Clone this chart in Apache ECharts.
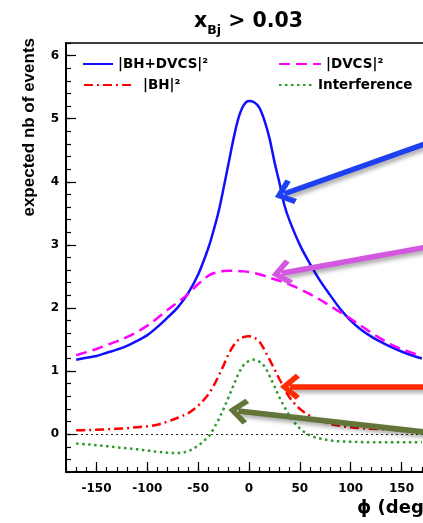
<!DOCTYPE html>
<html>
<head>
<meta charset="utf-8">
<script src="https://cdn.jsdelivr.net/npm/echarts@6/dist/echarts.min.js"></script>
<style>
  html, body { margin: 0; padding: 0; background: #fff; }
  #chart { width: 423px; height: 523px; }
</style>
</head>
<body>
<div id="chart"></div>
<script>
// azimuthal angle phi (degrees)
const phi = [-170,-160,-150,-140,-130,-120,-110,-100,-90,-80,-70,-60,-50,-40,
             -35,-30,-25,-20,-15,-10,-5,0,5,10,15,20,25,30,35,
             40,50,60,70,80,90,100,110,120,130,140,150,160,170];

// expected number of events per contribution
const bhDvcs = [1.18,1.21,1.24,1.29,1.34,1.40,1.48,1.57,1.70,1.85,2.01,2.23,2.53,2.95,
                3.22,3.52,3.90,4.30,4.70,5.03,5.22,5.28,5.26,5.18,4.98,4.70,4.32,3.98,3.62,
                3.38,3.00,2.70,2.43,2.20,1.98,1.80,1.66,1.55,1.46,1.38,1.31,1.25,1.20];
const dvcs = [1.25,1.30,1.35,1.41,1.47,1.54,1.62,1.72,1.84,1.97,2.09,2.22,2.38,2.51,
              2.55,2.57,2.585,2.59,2.59,2.585,2.58,2.57,2.555,2.535,2.51,2.48,2.455,2.43,2.40,
              2.37,2.30,2.22,2.13,2.03,1.93,1.83,1.72,1.61,1.51,1.42,1.35,1.29,1.23];
const bh = [0.06,0.065,0.07,0.075,0.085,0.095,0.11,0.125,0.15,0.20,0.26,0.33,0.45,0.63,
            0.76,0.92,1.09,1.27,1.41,1.50,1.54,1.55,1.53,1.47,1.34,1.19,1.03,0.87,0.72,
            0.58,0.40,0.29,0.21,0.16,0.13,0.11,0.095,0.085,0.078,0.07,0.06,0.05,0.04];
const interference = [-0.15,-0.16,-0.175,-0.19,-0.21,-0.225,-0.24,-0.26,-0.28,-0.295,-0.30,-0.27,-0.18,-0.04,
                      0.08,0.23,0.40,0.59,0.78,0.97,1.10,1.16,1.18,1.15,1.08,0.93,0.76,0.58,0.43,
                      0.29,0.09,-0.02,-0.07,-0.10,-0.115,-0.12,-0.125,-0.13,-0.13,-0.13,-0.13,-0.13,-0.13];

const seriesNames = ['|BH+DVCS|²', '|DVCS|²', '|BH|²', 'Interference'];
const xMajorTicks = [-150, -100, -50, 0, 50, 100, 150];
const yMajorTicks = [0, 1, 2, 3, 4, 5, 6];

// pointer arrows: [tail phi, tail value, head phi, head value]
const arrowBlue = [180, 4.64, 34.8, 3.81];
const arrowViolet = [180, 2.98, 32.0, 2.55];
const arrowRed = [180, 0.75, 40.3, 0.75];
const arrowOlive = [180, 0.02, -10.6, 0.367];

const pairs = vals => phi.map((p, i) => [p, vals[i]]);

const FONT = 'DejaVu Sans';
const chevron = 'path://M12,0 L24,13 L20.5,16.5 L12,7 L3.5,16.5 L0,13 Z';

function arrowMark(a, color) {
  return {
    silent: true,
    animation: false,
    symbol: ['none', chevron],
    symbolSize: [26, 20],
    label: { show: false },
    emphasis: { disabled: true },
    lineStyle: {
      color: color, width: 5.5, type: 'solid', opacity: 1,
      shadowColor: 'rgba(0,0,0,0.35)', shadowBlur: 4, shadowOffsetX: 2, shadowOffsetY: 3
    },
    itemStyle: { color: color },
    data: [[{ coord: [a[0], a[1]] }, { coord: [a[2], a[3]] }]]
  };
}

function lineSeries(name, vals, color, type, mark) {
  return {
    name: name,
    type: 'line',
    data: pairs(vals),
    xAxisIndex: 0,
    yAxisIndex: 0,
    showSymbol: false,
    symbol: 'none',
    smooth: 0.35,
    clip: false,
    lineStyle: { color: color, width: 2.5, type: type, cap: 'butt' },
    itemStyle: { color: color },
    emphasis: { disabled: true },
    markLine: mark
  };
}

function legendAt(name, left, top, itemWidth, pad) {
  return {
    data: [name],
    left: left, top: top,
    padding: 0,
    itemWidth: itemWidth, itemHeight: 14, itemGap: 0,
    selectedMode: false,
    itemStyle: { opacity: 0 },
    textStyle: { fontFamily: FONT, fontWeight: 'bold', fontSize: 13.5, color: '#000', padding: [0, 0, 0, pad || 0] }
  };
}

const chart = echarts.init(document.getElementById('chart'), null, { renderer: 'canvas' });
chart.setOption({
  animation: false,
  backgroundColor: '#fff',
  title: {
    text: '{a|x}{b|Bj}{a| > 0.03}',
    left: 189, top: 1,
    textStyle: {
      rich: {
        a: { fontFamily: FONT, fontWeight: 'bold', fontSize: 20.5, color: '#000', lineHeight: 31 },
        b: { fontFamily: FONT, fontWeight: 'bold', fontSize: 12.5, color: '#000', lineHeight: 14, verticalAlign: 'bottom' }
      }
    }
  },
  legend: [
    legendAt(seriesNames[0], 82, 57, 30),
    legendAt(seriesNames[1], 278, 57, 42),
    legendAt(seriesNames[2], 83, 78, 47, 7),
    legendAt(seriesNames[3], 278, 78, 34)
  ],
  grid: {
    left: 66, top: 43, width: 366, height: 429,
    show: true, borderColor: '#000', borderWidth: 1.5,
    containLabel: false, outerBoundsMode: 'none'
  },
  xAxis: [
    {
      type: 'value', min: -180, max: 180, interval: 10,
      position: 'bottom',
      axisLine: { show: true, onZero: false, lineStyle: { color: '#000', width: 2 } },
      axisTick: { show: true, inside: true, length: 5, lineStyle: { color: '#000', width: 1.2 } },
      axisLabel: { show: false },
      splitLine: { show: false },
      name: 'ϕ (deg)',
      nameLocation: 'end',
      nameGap: 0,
      nameTextStyle: { fontFamily: FONT, fontWeight: 'bold', fontSize: 18, color: '#000', align: 'right', verticalAlign: 'top', padding: [27, 0, 0, 0] }
    },
    {
      type: 'value', min: -180, max: 180,
      position: 'bottom',
      axisLine: { show: false, onZero: false },
      axisTick: { show: true, inside: true, length: 10, customValues: xMajorTicks, lineStyle: { color: '#000', width: 1.2 } },
      axisLabel: { show: true, customValues: xMajorTicks, margin: 11, fontFamily: FONT, fontWeight: 'bold', fontSize: 12, color: '#000' },
      splitLine: { show: false }
    }
  ],
  yAxis: [
    {
      type: 'value', min: -0.6, max: 6.2, interval: 0.2,
      position: 'left',
      axisLine: { show: true, onZero: false, lineStyle: { color: '#000', width: 2 } },
      axisTick: { show: true, inside: true, length: 5, lineStyle: { color: '#000', width: 1.2 } },
      axisLabel: { show: false },
      splitLine: { show: false }
    },
    {
      type: 'value', min: -0.6, max: 6.2,
      position: 'left',
      axisLine: { show: false, onZero: false },
      axisTick: { show: true, inside: true, length: 10, customValues: yMajorTicks, lineStyle: { color: '#000', width: 1.2 } },
      axisLabel: { show: true, customValues: yMajorTicks, margin: 7, fontFamily: FONT, fontWeight: 'bold', fontSize: 12, color: '#000' },
      splitLine: { show: false }
    }
  ],
  graphic: [
    {
      type: 'text',
      x: 29, y: 38,
      rotation: Math.PI / 2,
      style: {
        text: 'expected nb of events',
        font: 'bold 17px "Liberation Sans"',
        fill: '#000',
        align: 'right',
        verticalAlign: 'middle'
      }
    }
  ],
  series: [
    {
      name: 'zero',
      type: 'line',
      data: [],
      silent: true,
      markLine: {
        silent: true, animation: false, symbol: 'none',
        label: { show: false },
        lineStyle: { color: '#222', width: 1, type: [2, 3] },
        data: [{ yAxis: 0 }]
      }
    },
    lineSeries(seriesNames[0], bhDvcs, '#1010ff', 'solid', arrowMark(arrowBlue, '#1f3ff2')),
    lineSeries(seriesNames[1], dvcs, '#ff00ff', [11, 6], arrowMark(arrowViolet, '#d457e0')),
    lineSeries(seriesNames[2], bh, '#ff0000', [9, 4, 2, 4], arrowMark(arrowRed, '#ff2a00')),
    lineSeries(seriesNames[3], interference, '#2e9a2e', [2.5, 3.5], arrowMark(arrowOlive, '#637538'))
  ]
});
</script>
</body>
</html>
